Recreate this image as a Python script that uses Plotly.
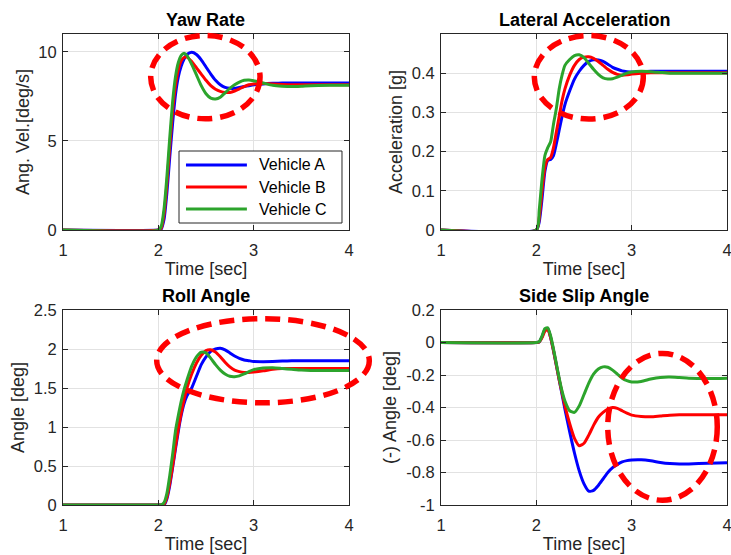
import plotly.graph_objects as go

# ---------------- data ----------------
# time samples [sec]
t = [1.0, 2.0, 2.03, 2.06, 2.09, 2.12, 2.15, 2.18, 2.21, 2.24, 2.27, 2.30,
     2.35, 2.40, 2.45, 2.50, 2.55, 2.60, 2.65, 2.70, 2.75, 2.80, 2.85, 2.90,
     2.95, 3.00, 3.10, 3.20, 3.30, 3.40, 3.50, 3.60, 3.80, 4.00]

vehicles = ["Vehicle A", "Vehicle B", "Vehicle C"]
colors = ["#0000ff", "#ff0000", "#2ca42c"]

# yaw rate [deg/s]
yaw_a = [0, 0, 0.05, 0.6, 2.1, 4.1, 6.0, 7.6, 8.6, 9.2, 9.6, 9.85,
         9.97, 9.85, 9.55, 9.15, 8.75, 8.4, 8.15, 8.0, 7.95, 7.95, 8.0, 8.05,
         8.1, 8.15, 8.2, 8.23, 8.25, 8.25, 8.25, 8.25, 8.25, 8.25]
yaw_b = [0, 0, 0.1, 0.9, 2.6, 4.7, 6.7, 8.1, 9.0, 9.5, 9.68, 9.7,
         9.45, 9.1, 8.75, 8.4, 8.1, 7.9, 7.78, 7.72, 7.72, 7.8, 7.92, 8.05,
         8.15, 8.2, 8.22, 8.2, 8.17, 8.15, 8.15, 8.15, 8.15, 8.15]
yaw_c = [0, 0, 0.2, 1.2, 3.0, 5.2, 7.2, 8.6, 9.4, 9.8, 9.92, 9.8,
         9.3, 8.7, 8.1, 7.65, 7.4, 7.35, 7.45, 7.7, 7.95, 8.15, 8.3, 8.4,
         8.42, 8.38, 8.25, 8.12, 8.07, 8.05, 8.07, 8.1, 8.12, 8.12]

# lateral acceleration [g]
acc_a = [0, 0, 0.02, 0.08, 0.15, 0.178, 0.18, 0.19, 0.22, 0.255, 0.29, 0.32,
         0.355, 0.385, 0.405, 0.42, 0.43, 0.434, 0.434, 0.43, 0.423, 0.415, 0.41, 0.406,
         0.404, 0.403, 0.404, 0.405, 0.405, 0.405, 0.405, 0.405, 0.405, 0.405]
acc_b = [0, 0, 0.03, 0.1, 0.16, 0.18, 0.185, 0.21, 0.25, 0.29, 0.33, 0.36,
         0.395, 0.42, 0.435, 0.441, 0.442, 0.438, 0.43, 0.42, 0.41, 0.402, 0.397, 0.395,
         0.396, 0.398, 0.4, 0.401, 0.401, 0.401, 0.401, 0.401, 0.401, 0.401]
acc_c = [0, 0, 0.05, 0.13, 0.19, 0.21, 0.225, 0.27, 0.31, 0.36, 0.395, 0.42,
         0.435, 0.445, 0.447, 0.44, 0.425, 0.41, 0.397, 0.388, 0.385, 0.386, 0.39, 0.395,
         0.4, 0.403, 0.405, 0.404, 0.402, 0.4, 0.4, 0.4, 0.4, 0.4]

# roll angle [deg]
roll_a = [0, 0, 0, 0.0, 0.08, 0.25, 0.48, 0.72, 0.95, 1.15, 1.3, 1.4,
          1.5, 1.65, 1.8, 1.9, 1.97, 2.0, 2.01, 1.99, 1.95, 1.91, 1.88, 1.86,
          1.85, 1.84, 1.838, 1.84, 1.845, 1.85, 1.85, 1.85, 1.85, 1.85]
roll_b = [0, 0, 0, 0.01, 0.1, 0.28, 0.5, 0.75, 0.98, 1.18, 1.35, 1.5,
          1.68, 1.82, 1.92, 1.98, 1.99, 1.96, 1.9, 1.83, 1.77, 1.73, 1.71, 1.7,
          1.7, 1.705, 1.72, 1.74, 1.75, 1.75, 1.75, 1.75, 1.75, 1.75]
roll_c = [0, 0, 0, 0.03, 0.15, 0.38, 0.65, 0.95, 1.15, 1.33, 1.48, 1.6,
          1.78, 1.9, 1.96, 1.95, 1.88, 1.8, 1.73, 1.68, 1.65, 1.645, 1.655, 1.68,
          1.71, 1.735, 1.755, 1.76, 1.75, 1.74, 1.73, 1.725, 1.725, 1.725]

# side slip angle, sign inverted [deg]
slip_a = [0, 0, 0.003, 0.035, 0.08, 0.085, 0.03, -0.05, -0.14, -0.23, -0.32, -0.41,
          -0.55, -0.68, -0.79, -0.87, -0.915, -0.91, -0.88, -0.84, -0.8, -0.77, -0.75, -0.735,
          -0.727, -0.723, -0.722, -0.728, -0.738, -0.745, -0.748, -0.747, -0.743, -0.74]
slip_b = [0, 0, 0.003, 0.03, 0.07, 0.08, 0.03, -0.05, -0.14, -0.23, -0.31, -0.39,
          -0.5, -0.59, -0.635, -0.62, -0.57, -0.51, -0.46, -0.43, -0.41, -0.4, -0.405, -0.42,
          -0.435, -0.447, -0.455, -0.457, -0.452, -0.447, -0.445, -0.445, -0.445, -0.445]
slip_c = [0, 0, 0.005, 0.04, 0.085, 0.09, 0.04, -0.04, -0.13, -0.22, -0.3, -0.36,
          -0.42, -0.43, -0.39, -0.32, -0.25, -0.195, -0.163, -0.15, -0.152, -0.17, -0.195, -0.22,
          -0.235, -0.243, -0.24, -0.225, -0.215, -0.213, -0.216, -0.22, -0.222, -0.22]

panels = [
    dict(title="Yaw Rate", ylabel="Ang. Vel.[deg/s]", series=[yaw_a, yaw_b, yaw_c],
         yrange=[0, 11], yticks=[0, 5, 10], ytext=["0", "5", "10"]),
    dict(title="Lateral Acceleration", ylabel="Acceleration [g]", series=[acc_a, acc_b, acc_c],
         yrange=[0, 0.5], yticks=[0, 0.1, 0.2, 0.3, 0.4], ytext=["0", "0.1", "0.2", "0.3", "0.4"]),
    dict(title="Roll Angle", ylabel="Angle [deg]", series=[roll_a, roll_b, roll_c],
         yrange=[0, 2.5], yticks=[0, 0.5, 1, 1.5, 2, 2.5],
         ytext=["0", "0.5", "1", "1.5", "2", "2.5"]),
    dict(title="Side Slip Angle", ylabel="(-) Angle [deg]", series=[slip_a, slip_b, slip_c],
         yrange=[-1, 0.2], yticks=[-1, -0.8, -0.6, -0.4, -0.2, 0, 0.2],
         ytext=["-1", "-0.8", "-0.6", "-0.4", "-0.2", "0", "0.2"]),
]
xticks = [1, 2, 3, 4]

# highlighted regions (data coords: x0, x1, y0, y1) per panel
highlights = [
    (1.92, 3.067, 6.24, 10.92),
    (1.979, 3.122, 0.283, 0.496),
    (1.983, 4.213, 1.31, 2.389),
    (2.749, 3.898, -0.971, -0.067),
]

# ---------------- layout ----------------
W, H = 731, 555
FONT = "Liberation Sans, Arial, Helvetica, sans-serif"
INK = "#262626"
GRID = "#e2e2e2"

# axes boxes in pixels: (left, right, top, bottom)
boxes = [(63, 349, 34, 230), (441, 727, 34, 230),
         (63, 349, 310, 505), (441, 727, 310, 505)]

fig = go.Figure()
layout = dict(width=W, height=H, margin=dict(l=0, r=0, t=0, b=0, autoexpand=False),
              paper_bgcolor="white", plot_bgcolor="white",
              showlegend=False, font=dict(family=FONT, color=INK),
              shapes=[], annotations=[])

for i, (p, box) in enumerate(zip(panels, boxes)):
    n = i + 1
    xa = "xaxis" if n == 1 else f"xaxis{n}"
    ya = "yaxis" if n == 1 else f"yaxis{n}"
    xr = "x" if n == 1 else f"x{n}"
    yr = "y" if n == 1 else f"y{n}"
    l, r, tp, bt = box
    xdom = [l / W, r / W]
    ydom = [1 - bt / H, 1 - tp / H]
    common = dict(showgrid=True, gridcolor=GRID, gridwidth=1, zeroline=False,
                  showline=True, linecolor=INK, linewidth=1, mirror="ticks",
                  ticks="inside", ticklen=5, tickcolor=INK, tickwidth=1, automargin=False,
                  ticklabeloverflow="allow",
                  tickfont=dict(family=FONT, size=16.5, color=INK))
    layout[xa] = dict(common, domain=xdom, range=[1, 4], tickvals=xticks,
                      ticktext=[str(v) for v in xticks], anchor=yr, ticklabelstandoff=5,
                      title=dict(text="Time [sec]", font=dict(size=18, color=INK), standoff=4))
    layout[ya] = dict(common, domain=ydom, range=p["yrange"], tickvals=p["yticks"],
                      ticktext=p["ytext"], anchor=xr, ticklabelstandoff=2,
                      title=dict(text=p["ylabel"], font=dict(size=18, color=INK), standoff=4))
    for name, col, ys in zip(vehicles, colors, p["series"]):
        fig.add_trace(go.Scatter(x=t, y=ys, mode="lines", name=name,
                                 line=dict(color=col, width=3, shape="spline", smoothing=0.6),
                                 xaxis=xr, yaxis=yr, showlegend=False))
    # subplot title
    layout["annotations"].append(dict(
        text=f"<b>{p['title']}</b>", x=(xdom[0] + xdom[1]) / 2, y=ydom[1],
        xref="paper", yref="paper", xanchor="center", yanchor="bottom", yshift=2,
        showarrow=False, font=dict(family=FONT, size=18, color="black")))
    # dashed highlight ellipse (drawn in paper coords so it is not clipped)
    x0, x1, y0, y1 = highlights[i]
    xrng, yrng = [1, 4], p["yrange"]
    def px(v):
        return xdom[0] + (v - xrng[0]) / (xrng[1] - xrng[0]) * (xdom[1] - xdom[0])
    def py(v):
        return ydom[0] + (v - yrng[0]) / (yrng[1] - yrng[0]) * (ydom[1] - ydom[0])
    layout["shapes"].append(dict(
        type="circle", xref="paper", yref="paper",
        x0=px(x0), x1=px(x1), y0=py(y0), y1=py(y1),
        line=dict(color="#ff0000", width=5.5, dash="15px,8px"), layer="above"))

# legend box inside the yaw-rate panel (axis-domain coordinates)
layout["shapes"].append(dict(type="rect", xref="x domain", yref="y domain",
                             x0=0.4056, x1=0.9755, y0=0.0357, y1=0.403,
                             line=dict(color=INK, width=1), fillcolor="white", layer="above"))
for k, (name, col) in enumerate(zip(vehicles, colors)):
    yy = [0.332, 0.219, 0.107][k]
    layout["shapes"].append(dict(type="line", xref="x domain", yref="y domain",
                                 x0=0.43, x1=0.643, y0=yy, y1=yy,
                                 line=dict(color=col, width=3), layer="above"))
    layout["annotations"].append(dict(text=name, xref="x domain", yref="y domain",
                                      x=0.678, y=yy, xanchor="left", yanchor="middle",
                                      showarrow=False,
                                      font=dict(family=FONT, size=16, color="black")))

fig.update_layout(**layout)
fig.write_html("out.html")
